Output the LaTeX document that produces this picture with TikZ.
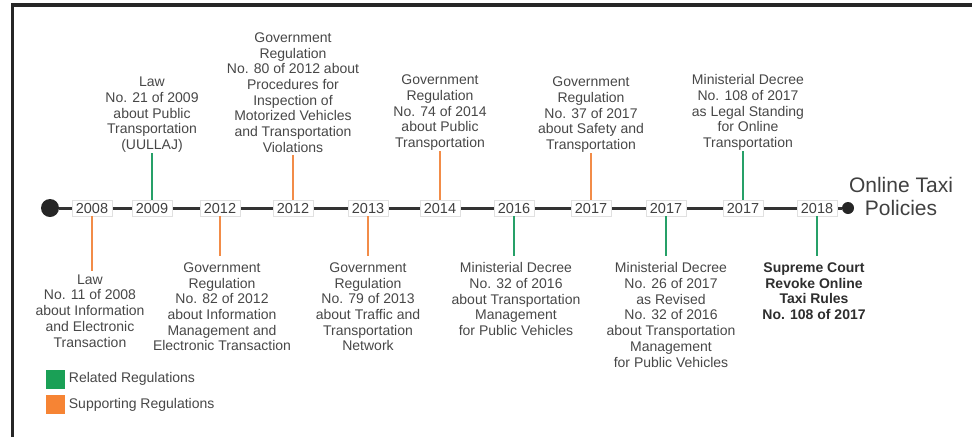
\documentclass[tikz,border=0pt]{standalone}
\usepackage{fontspec}
\setmainfont{Liberation Sans}
\usepackage{xcolor}
\usepackage{tikz}
\usetikzlibrary{positioning, calc}

\definecolor{relgreen}{RGB}{38,160,104}
\definecolor{suporange}{RGB}{242,140,72}
\definecolor{leggreen}{RGB}{26,160,86}
\definecolor{legorange}{RGB}{246,132,52}

\tikzset{
  yearbox/.style={draw=black!12, fill=white, inner xsep=4pt, inner ysep=3pt,
    text height=10.5pt, text depth=0pt, font=\fontsize{14.5}{16}\selectfont, text=black!75},
  lawtext/.style={align=center, inner sep=0pt, font=\fontsize{14}{15.7}\selectfont, text=black!72},
  relline/.style={draw=relgreen, line width=1.8pt},
  supline/.style={draw=suporange, line width=1.8pt},
  legbox/.style={minimum size=19pt, inner sep=0pt},
  legtext/.style={inner sep=0pt, font=\fontsize{14}{16}\selectfont, text=black!72},
}

\begin{document}
\begin{tikzpicture}[x=1pt, y=-1pt]
    \useasboundingbox (0,0) rectangle (972,437);
    \draw[line width=3.5pt, black!85] (12.5,437) -- (12.5,5) -- (972,5);

    \node[circle, fill=black!85, minimum size=18pt, inner sep=0pt] (start) at (50,208) {};
    \node[circle, fill=black!85, minimum size=12pt, inner sep=0pt] (stop) at (848,208) {};
    \draw[line width=3pt, black!80] (start) -- (stop);

    \node[yearbox] (y08) at (92,208) {2008};
    \node[yearbox] (y09) at (152,208) {2009};
    \node[yearbox] (y12a) at (220,208) {2012};
    \node[yearbox] (y12b) at (293,208) {2012};
    \node[yearbox] (y13) at (368,208) {2013};
    \node[yearbox] (y14) at (440,208) {2014};
    \node[yearbox] (y16) at (514,208) {2016};
    \node[yearbox] (y17a) at (591,208) {2017};
    \node[yearbox] (y17b) at (666,208) {2017};
    \node[yearbox] (y17c) at (743,208) {2017};
    \node[yearbox] (y18) at (817,208) {2018};

    \node[align=center, inner sep=0pt, font=\fontsize{21}{23}\selectfont, text=black!75]
      (policy) at (901,196) {Online Taxi\\Policies};

    % above the line
    \node[lawtext, above=47pt of y09] (t09) {Law\\No. 21 of 2009\\about Public\\Transportation\\(UULLAJ)};
    \node[lawtext, above=47pt of y12b] (t12b) {Government\\Regulation\\No. 80 of 2012 about\\Procedures for\\Inspection of\\Motorized Vehicles\\and Transportation\\Violations};
    \node[lawtext, above=49pt of y14] (t14) {Government\\Regulation\\No. 74 of 2014\\about Public\\Transportation};
    \node[lawtext, above=47pt of y17a] (t17a) {Government\\Regulation\\No. 37 of 2017\\about Safety and\\Transportation};
    \node[lawtext, above=49pt of y17c, xshift=5pt] (t17c) {Ministerial Decree\\No. 108 of 2017\\as Legal Standing\\for Online\\Transportation};

    \draw[relline] (y09.north) -- (y09.north |- t09.south);
    \draw[supline, shorten >=2pt] (y12b.north) -- (y12b.north |- t12b.south);
    \draw[supline] (y14.north) -- (y14.north |- t14.south);
    \draw[supline] (y17a.north) -- (y17a.north |- t17a.south);
    \draw[relline] (y17c.north) -- (y17c.north |- t17c.south);

    % below the line
    \node[lawtext, below=58pt of y08, xshift=-2pt] (t08) {Law\\No. 11 of 2008\\about Information\\and Electronic\\Transaction};
    \node[lawtext, below=46pt of y12a, xshift=2pt] (t12a) {Government\\Regulation\\No. 82 of 2012\\about Information\\Management and\\Electronic Transaction};
    \node[lawtext, below=46pt of y13] (t13) {Government\\Regulation\\No. 79 of 2013\\about Traffic and\\Transportation\\Network};
    \node[lawtext, below=46pt of y16, xshift=2pt] (t16) {Ministerial Decree\\No. 32 of 2016\\about Transportation\\Management\\for Public Vehicles};
    \node[lawtext, below=46pt of y17b, xshift=5pt] (t17b) {Ministerial Decree\\No. 26 of 2017\\as Revised\\No. 32 of 2016\\about Transportation\\Management\\for Public Vehicles};
    \node[lawtext, below=46pt of y18, xshift=-3pt, font=\fontsize{14}{15.7}\selectfont\bfseries, text=black!82] (t18) {Supreme Court\\Revoke Online\\Taxi Rules\\No. 108 of 2017};

    \draw[supline, shorten >=3pt] (y08.south) -- (y08.south |- t08.north);
    \draw[supline, shorten >=6pt] (y12a.south) -- (y12a.south |- t12a.north);
    \draw[supline, shorten >=6pt] (y13.south) -- (y13.south |- t13.north);
    \draw[relline, shorten >=6pt] (y16.south) -- (y16.south |- t16.north);
    \draw[relline, shorten >=6pt] (y17b.south) -- (y17b.south |- t17b.north);
    \draw[relline, shorten >=6pt] (y18.south) -- (y18.south |- t18.north);

    % legend
    \node[legbox, fill=leggreen] (lgrel) at (55,379) {};
    \node[legtext, right=4pt of lgrel] (lgreltext) {Related Regulations};
    \node[legbox, fill=legorange] (lgsup) at (55,404.5) {};
    \node[legtext, right=4pt of lgsup] (lgsuptext) {Supporting Regulations};
  \end{tikzpicture}
\end{document}
